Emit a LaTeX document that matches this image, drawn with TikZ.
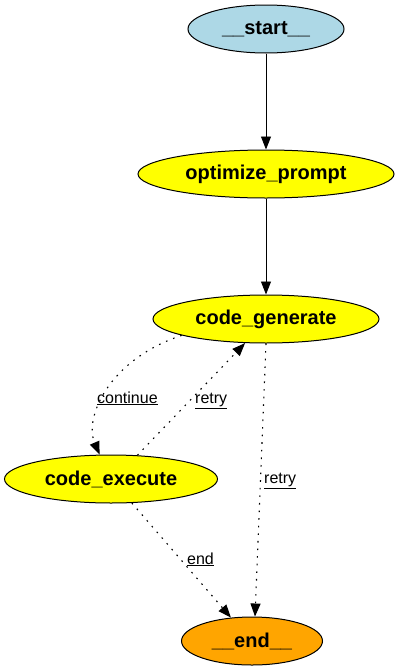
\documentclass[tikz,border=0pt]{standalone}
\usepackage{fontspec}
\setmainfont{Liberation Sans}
\usetikzlibrary{arrows.meta,shapes.geometric}
\definecolor{startblue}{HTML}{ADD8E6}
\definecolor{nodeyellow}{HTML}{FFFF00}
\definecolor{endorange}{HTML}{FFA500}
\tikzset{
  gnode/.style={ellipse, draw, line width=1pt, inner sep=0pt, minimum height=48pt,
    font=\fontsize{20}{24}\selectfont\bfseries},
  flow/.style={line width=0.9pt, -{Triangle[length=13pt,width=10pt]}},
  cond/.style={flow, line width=1.1pt, dash pattern=on 1.6pt off 6pt},
  lbl/.style={anchor=base west, inner sep=0pt, font=\fontsize{16}{19}\selectfont}
}

\begin{document}
\begin{tikzpicture}[x=1pt,y=-1pt]
  \useasboundingbox (0,0) rectangle (400,672);

  \node[gnode, fill=startblue, minimum width=156pt] (st) at (266,29) {\_\_start\_\_};
  \node[gnode, fill=nodeyellow, minimum width=256pt] (op) at (266,174) {optimize\_prompt};
  \node[gnode, fill=nodeyellow, minimum width=226pt] (cg) at (266,319) {code\_generate};
  \node[gnode, fill=nodeyellow, minimum width=213pt] (cx) at (111,479) {code\_execute};
  \node[gnode, fill=endorange, minimum width=141pt] (en) at (252,641) {\_\_end\_\_};

  \draw[flow] (st) -- (op);
  \draw[flow] (op) -- (cg);

  \draw[cond] (cg.191) .. controls (108,360) and (84,418) .. (cx.115);
  \node[lbl] (lcont) at (97,403) {\underline{continue}};

  \draw[cond] (cx.42) -- (cg.229);
  \node[lbl] (lretry) at (195,403) {\underline{retry}};

  \draw[cond] (cg.south) -- (en.83);
  \node[lbl] (lretryend) at (264,483) {\underline{retry}};

  \draw[cond] (cx.311) -- (en.132);
  \node[lbl] (lend) at (187,564) {\underline{end}};
\end{tikzpicture}
\end{document}
